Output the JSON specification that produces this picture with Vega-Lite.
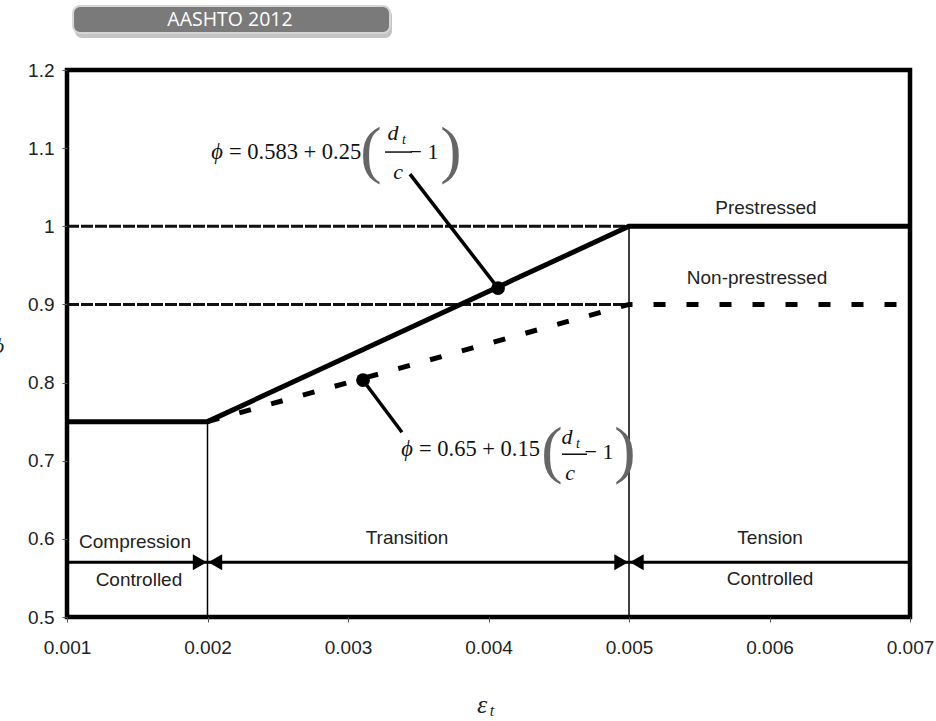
{
  "$schema": "https://vega.github.io/schema/vega-lite/v6.json",
  "width": 843,
  "height": 547,
  "autosize": {"type": "none"},
  "padding": {"left": 67, "top": 70, "right": 26, "bottom": 104},
  "background": "white",
  "config": {
    "view": {"stroke": "black", "strokeWidth": 4.5},
    "axis": {"grid": false, "domain": false, "tickSize": 5, "tickColor": "#555", "tickWidth": 1, "labelFont": "Liberation Sans", "labelFontSize": 19, "labelColor": "#222"}
  },
  "datasets": {
    "pre": [{"x": 0.001, "y": 0.75}, {"x": 0.002, "y": 0.75}, {"x": 0.005, "y": 1.0}, {"x": 0.007, "y": 1.0}],
    "nonpre": [{"x": 0.002, "y": 0.75}, {"x": 0.005, "y": 0.9}, {"x": 0.007, "y": 0.9}],
    "hdash": [{"x": 0.001, "x2": 0.005, "y": 1.0}, {"x": 0.001, "x2": 0.005, "y": 0.9}],
    "vlines": [{"x": 0.002, "y": 0.5, "y2": 0.75}, {"x": 0.005, "y": 0.5, "y2": 1.0}],
    "zone": [{"x": 0.001, "x2": 0.007, "y": 0.570}],
    "arrows": [
      {"x": 0.001945, "y": 0.570, "side": "right"},
      {"x": 0.002055, "y": 0.570, "side": "left"},
      {"x": 0.004945, "y": 0.570, "side": "right"},
      {"x": 0.005055, "y": 0.570, "side": "left"}
    ],
    "callouts": [
      {"x": 0.003441, "y": 1.0668, "x2": 0.004068, "y2": 0.9209},
      {"x": 0.003384, "y": 0.7365, "x2": 0.003107, "y2": 0.803}
    ],
    "dots": [{"x": 0.004068, "y": 0.9209}, {"x": 0.003107, "y": 0.803}],
    "labels": [
      {"x": 0.005975, "y": 1.0233, "text": "Prestressed"},
      {"x": 0.005911, "y": 0.9337, "text": "Non-prestressed"},
      {"x": 0.001484, "y": 0.5957, "text": "Compression"},
      {"x": 0.001512, "y": 0.547, "text": "Controlled"},
      {"x": 0.00342, "y": 0.6008, "text": "Transition"},
      {"x": 0.006004, "y": 0.6008, "text": "Tension"},
      {"x": 0.006004, "y": 0.5483, "text": "Controlled"}
    ],
    "mathmain": [
      {"x": 0.002153, "y": 1.095, "text": "= 0.583 + 0.25"},
      {"x": 0.0035053, "y": 0.7147, "text": "= 0.65 + 0.15"}
    ],
    "phi": [
      {"x": 0.0020676, "y": 1.095, "text": "ϕ"},
      {"x": 0.00342, "y": 0.7147, "text": "ϕ"}
    ],
    "paren": [
      {"x": 0.0031637, "y": 1.095, "text": "("},
      {"x": 0.0037331, "y": 1.095, "text": ")"},
      {"x": 0.004452, "y": 0.7109, "text": "("},
      {"x": 0.0049715, "y": 0.7109, "text": ")"}
    ],
    "ital": [
      {"x": 0.0033203, "y": 1.1193, "text": "d"},
      {"x": 0.0033559, "y": 1.0694, "text": "c"},
      {"x": 0.0045587, "y": 0.7301, "text": "d"},
      {"x": 0.0045801, "y": 0.684, "text": "c"}
    ],
    "sub": [
      {"x": 0.0033986, "y": 1.1104, "text": "t"},
      {"x": 0.004637, "y": 0.7211, "text": "t"}
    ],
    "minus": [
      {"x": 0.003541, "y": 1.095, "text": "− 1"},
      {"x": 0.0047865, "y": 0.7109, "text": "− 1"}
    ],
    "bars": [
      {"x": 0.0032633, "x2": 0.0034555, "y": 1.095},
      {"x": 0.0045231, "x2": 0.0047011, "y": 0.7083}
    ],
    "xtitle": [{"x": 0.003954, "y": 0.387, "text": "ε"}],
    "xsub": [{"x": 0.004025, "y": 0.3793, "text": "t"}],
    "badge": [{"x": 0.001043, "x2": 0.003299, "y": 1.282, "y2": 1.2474}],
    "shadow": [{"x": 0.001057, "x2": 0.003313, "y": 1.278, "y2": 1.241}],
    "badgetext": [{"x": 0.00216, "y": 1.264, "text": "AASHTO 2012"}]
  },
  "encoding": {
    "x": {
      "field": "x", "type": "quantitative",
      "scale": {"domain": [0.001, 0.007], "nice": false, "zero": false},
      "axis": {"values": [0.001, 0.002, 0.003, 0.004, 0.005, 0.006, 0.007], "format": ".3f", "title": null, "labelPadding": 16, "labelFlush": false}
    },
    "y": {
      "field": "y", "type": "quantitative",
      "scale": {"domain": [0.5, 1.2], "nice": false, "zero": false},
      "axis": {"values": [0.5, 0.6, 0.7, 0.8, 0.9, 1.0, 1.1, 1.2], "format": ".1~f", "labelPadding": 8, "labelFlush": false,
        "title": "ϕ", "titleAngle": 0, "titleX": -69, "titleY": 275, "titleFont": "Liberation Serif", "titleFontSize": 22, "titleFontStyle": "italic", "titleFontWeight": "normal", "titleAlign": "center", "titleBaseline": "middle", "titleColor": "#222"}
    }
  },
  "layer": [
    {"data": {"name": "shadow"}, "mark": {"type": "rect", "fill": "#c4c4c4", "cornerRadius": 7, "clip": false},
     "encoding": {"x2": {"field": "x2"}, "y2": {"field": "y2"}}},
    {"data": {"name": "badge"}, "mark": {"type": "rect", "fill": "#7a7a7a", "stroke": "#d6d6d6", "strokeWidth": 2, "cornerRadius": 7, "clip": false},
     "encoding": {"x2": {"field": "x2"}, "y2": {"field": "y2"}}},
    {"data": {"name": "badgetext"}, "mark": {"type": "text", "font": "Open Sans", "fontSize": 19.5, "color": "white", "align": "center", "baseline": "middle"},
     "encoding": {"text": {"field": "text"}}},
    {"data": {"name": "hdash"}, "mark": {"type": "rule", "color": "#111", "strokeWidth": 3, "strokeDash": [12, 2]},
     "encoding": {"x2": {"field": "x2"}}},
    {"data": {"name": "vlines"}, "mark": {"type": "rule", "color": "black", "strokeWidth": 1.5},
     "encoding": {"y2": {"field": "y2"}}},
    {"data": {"name": "zone"}, "mark": {"type": "rule", "color": "black", "strokeWidth": 3},
     "encoding": {"x2": {"field": "x2"}}},
    {"data": {"name": "arrows"}, "transform": [{"filter": "datum.side == 'right'"}],
     "mark": {"type": "point", "shape": "triangle-right", "filled": true, "color": "black", "opacity": 1, "size": 260}, "encoding": {}},
    {"data": {"name": "arrows"}, "transform": [{"filter": "datum.side == 'left'"}],
     "mark": {"type": "point", "shape": "triangle-left", "filled": true, "color": "black", "opacity": 1, "size": 260}, "encoding": {}},
    {"data": {"name": "nonpre"}, "mark": {"type": "line", "color": "black", "strokeWidth": 5, "strokeDash": [12, 21], "strokeCap": "butt"}, "encoding": {}},
    {"data": {"name": "pre"}, "mark": {"type": "line", "color": "black", "strokeWidth": 5, "strokeJoin": "miter"}, "encoding": {}},
    {"data": {"name": "callouts"}, "mark": {"type": "rule", "color": "black", "strokeWidth": 3.5},
     "encoding": {"x2": {"field": "x2"}, "y2": {"field": "y2"}}},
    {"data": {"name": "dots"}, "mark": {"type": "circle", "color": "black", "opacity": 1, "size": 190}, "encoding": {}},
    {"data": {"name": "labels"}, "mark": {"type": "text", "font": "Liberation Sans", "fontSize": 19, "color": "#222", "align": "center", "baseline": "middle"},
     "encoding": {"text": {"field": "text"}}},
    {"data": {"name": "phi"}, "mark": {"type": "text", "font": "Liberation Serif", "fontSize": 22.5, "fontStyle": "italic", "color": "#111", "align": "center", "baseline": "middle"},
     "encoding": {"text": {"field": "text"}}},
    {"data": {"name": "mathmain"}, "mark": {"type": "text", "font": "Liberation Serif", "fontSize": 22.5, "color": "#111", "align": "left", "baseline": "middle"},
     "encoding": {"text": {"field": "text"}}},
    {"data": {"name": "paren"}, "mark": {"type": "text", "font": "Liberation Serif", "fontSize": 64, "color": "#666", "align": "center", "baseline": "middle"},
     "encoding": {"text": {"field": "text"}}},
    {"data": {"name": "ital"}, "mark": {"type": "text", "font": "Liberation Serif", "fontSize": 22, "fontStyle": "italic", "color": "#111", "align": "center", "baseline": "middle"},
     "encoding": {"text": {"field": "text"}}},
    {"data": {"name": "sub"}, "mark": {"type": "text", "font": "Liberation Serif", "fontSize": 14, "fontStyle": "italic", "color": "#111", "align": "center", "baseline": "middle"},
     "encoding": {"text": {"field": "text"}}},
    {"data": {"name": "minus"}, "mark": {"type": "text", "font": "Liberation Serif", "fontSize": 22, "color": "#111", "align": "center", "baseline": "middle"},
     "encoding": {"text": {"field": "text"}}},
    {"data": {"name": "bars"}, "mark": {"type": "rule", "color": "#111", "strokeWidth": 1.5},
     "encoding": {"x2": {"field": "x2"}}},
    {"data": {"name": "xtitle"}, "mark": {"type": "text", "font": "Liberation Serif", "fontSize": 26, "fontStyle": "italic", "color": "#222", "align": "center", "baseline": "middle", "clip": false},
     "encoding": {"text": {"field": "text"}}},
    {"data": {"name": "xsub"}, "mark": {"type": "text", "font": "Liberation Serif", "fontSize": 16, "fontStyle": "italic", "color": "#222", "align": "center", "baseline": "middle", "clip": false},
     "encoding": {"text": {"field": "text"}}}
  ]
}
